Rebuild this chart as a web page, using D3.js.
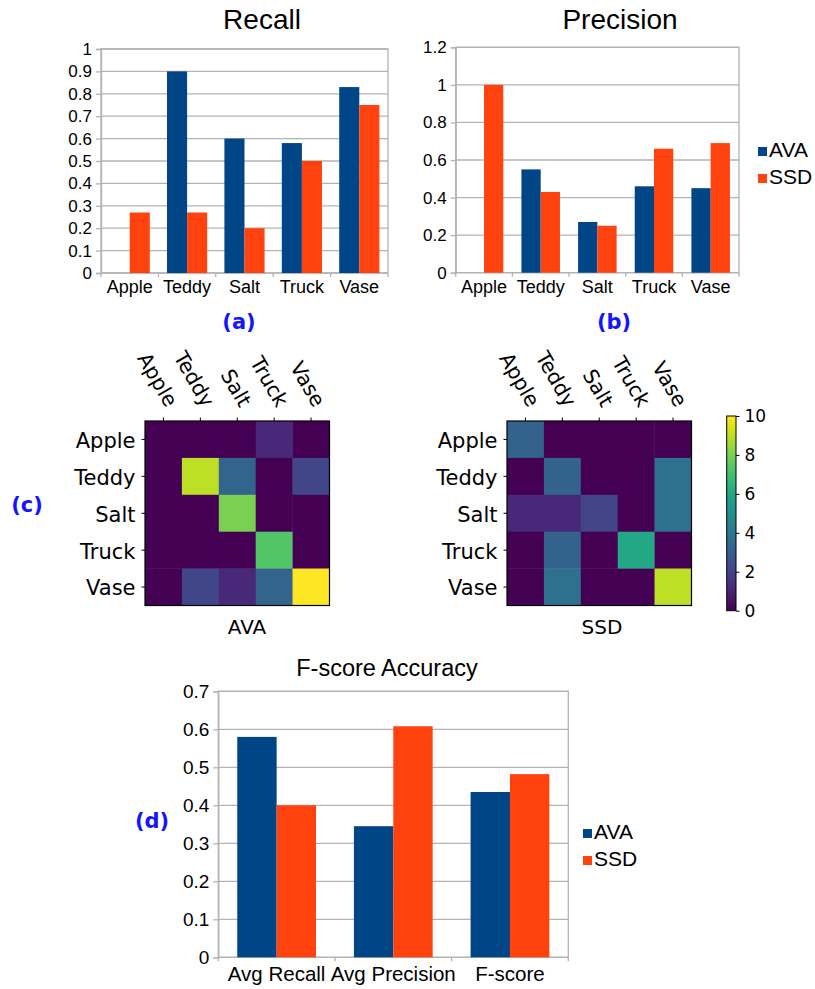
<!DOCTYPE html>
<html>
<head>
<meta charset="utf-8">
<script src="https://cdn.jsdelivr.net/npm/d3@7"></script>
<style>
  html, body { margin: 0; padding: 0; background: #fff; }
  svg { display: block; }
</style>
</head>
<body>
<div id="chart"></div>
<script>
// ---- data ----
const categories = ["Apple", "Teddy", "Salt", "Truck", "Vase"];
const seriesNames = ["AVA", "SSD"];

const recallAVA = [0, 0.9, 0.6, 0.58, 0.83];
const recallSSD = [0.27, 0.27, 0.2, 0.5, 0.75];
const recallTicks = [0, 0.1, 0.2, 0.3, 0.4, 0.5, 0.6, 0.7, 0.8, 0.9, 1];

const precisionAVA = [0, 0.55, 0.27, 0.46, 0.45];
const precisionSSD = [1.0, 0.43, 0.25, 0.66, 0.69];
const precisionTicks = [0, 0.2, 0.4, 0.6, 0.8, 1, 1.2];

const summaryCategories = ["Avg Recall", "Avg Precision", "F-score"];
const summaryAVA = [0.58, 0.345, 0.435];
const summarySSD = [0.4, 0.608, 0.482];
const summaryTicks = [0, 0.1, 0.2, 0.3, 0.4, 0.5, 0.6, 0.7];

// confusion matrices, rows = true class, cols = predicted
const confusionAVA = [
  [0, 0, 0, 1.1, 0],
  [0, 9, 3.2, 0, 2.1],
  [0, 0, 8, 0, 0],
  [0, 0, 0, 7.3, 0],
  [0, 2.1, 1.1, 3.2, 10]
];
const confusionSSD = [
  [3.1, 0, 0, 0, 0],
  [0, 3.1, 0, 0, 3.7],
  [1.1, 1.1, 2, 0, 3.7],
  [0, 3.1, 0, 6, 0],
  [0, 3.7, 0, 0, 9]
];
const colorbarTicks = [0, 2, 4, 6, 8, 10];

const colors = { AVA: "#004586", SSD: "#ff420e" };
const gridColor = "#b3b3b3";
const capColor = "#1414ff";

const W = 815, H = 989;
const svg = d3.select("#chart").append("svg")
  .attr("width", W).attr("height", H)
  .style("background", "#fff");

function barChart(cfg) {
  const g = svg.append("g").style("font-family", "'Liberation Sans', Arial, sans-serif");
  const x0 = d3.scaleBand().domain(cfg.cats).range([cfg.left, cfg.right]);
  const gap = x0.bandwidth() * (1 - cfg.fill) / 2;
  const x1 = d3.scaleBand().domain(seriesNames).range([gap, x0.bandwidth() - gap]);
  const y = d3.scaleLinear().domain([0, d3.max(cfg.ticks)]).range([cfg.bottom, cfg.top]);

  // gridlines
  g.selectAll(".grid").data(cfg.ticks).enter().append("line")
    .attr("x1", cfg.left).attr("x2", cfg.right)
    .attr("y1", d => y(d)).attr("y2", d => y(d))
    .attr("stroke", gridColor).attr("stroke-width", 1.3);
  g.append("rect")
    .attr("x", cfg.left).attr("y", cfg.top)
    .attr("width", cfg.right - cfg.left).attr("height", cfg.bottom - cfg.top)
    .attr("fill", "none").attr("stroke", gridColor).attr("stroke-width", 1.3);

  // y axis
  const yAxis = g.append("g").attr("transform", `translate(${cfg.left},0)`)
    .call(d3.axisLeft(y).tickValues(cfg.ticks).tickFormat(d => String(d)).tickSize(5).tickPadding(4));
  yAxis.select(".domain").attr("stroke", gridColor).attr("stroke-width", 1.3);
  yAxis.selectAll(".tick line").attr("stroke", gridColor).attr("stroke-width", 1.3);
  yAxis.selectAll("text").attr("fill", "#000").style("font-size", cfg.tickFont + "px")
    .style("font-family", "'Liberation Sans', Arial, sans-serif");

  // x axis ticks at band boundaries
  const bounds = cfg.cats.map(c => x0(c)).concat([cfg.right]);
  g.selectAll(".xt").data(bounds).enter().append("line")
    .attr("x1", d => d).attr("x2", d => d)
    .attr("y1", cfg.bottom).attr("y2", cfg.bottom + 4)
    .attr("stroke", gridColor).attr("stroke-width", 1.3);
  g.selectAll(".xl").data(cfg.cats).enter().append("text")
    .attr("x", d => x0(d) + x0.bandwidth() / 2)
    .attr("y", cfg.catBaseline)
    .attr("text-anchor", "middle")
    .style("font-size", cfg.catFont + "px")
    .text(d => d);

  // bars
  const rows = cfg.cats.map((c, i) => ({ cat: c, AVA: cfg.ava[i], SSD: cfg.ssd[i] }));
  const grp = g.selectAll(".grp").data(rows).enter().append("g")
    .attr("transform", d => `translate(${x0(d.cat)},0)`);
  grp.selectAll("rect").data(d => seriesNames.map(s => ({ s, v: d[s] }))).enter().append("rect")
    .attr("x", d => x1(d.s))
    .attr("width", x1.bandwidth())
    .attr("y", d => y(d.v))
    .attr("height", d => y(0) - y(d.v))
    .attr("fill", d => colors[d.s]);

  // title
  g.append("text").attr("x", cfg.titleX).attr("y", cfg.titleY)
    .attr("text-anchor", "middle").style("font-size", cfg.titleFont + "px")
    .text(cfg.title);

  // legend
  if (cfg.legend) {
    seriesNames.forEach((s, i) => {
      g.append("rect").attr("x", cfg.legend.x).attr("y", cfg.legend.y + i * cfg.legend.step)
        .attr("width", 9).attr("height", 9).attr("fill", colors[s]);
      g.append("text").attr("x", cfg.legend.x + 11).attr("y", cfg.legend.y + 9.5 + i * cfg.legend.step)
        .style("font-size", cfg.legend.font + "px").text(s);
    });
  }
}

function caption(txt, x, y) {
  svg.append("text").attr("x", x).attr("y", y).attr("text-anchor", "middle")
    .style("font-family", "'DejaVu Sans', sans-serif").style("font-weight", "bold")
    .style("font-size", "21px").attr("fill", capColor).text(txt);
}

barChart({
  cats: categories, ava: recallAVA, ssd: recallSSD, ticks: recallTicks,
  left: 101, right: 388, top: 49, bottom: 273, fill: 0.7,
  tickFont: 17, catFont: 18, catBaseline: 293,
  title: "Recall", titleX: 262, titleY: 29, titleFont: 28
});
barChart({
  cats: categories, ava: precisionAVA, ssd: precisionSSD, ticks: precisionTicks,
  left: 455.7, right: 739, top: 47.3, bottom: 272.7, fill: 0.68,
  tickFont: 17, catFont: 18, catBaseline: 293,
  title: "Precision", titleX: 620, titleY: 29, titleFont: 28,
  legend: { x: 758, y: 147, step: 27, font: 21 }
});
barChart({
  cats: summaryCategories, ava: summaryAVA, ssd: summarySSD, ticks: summaryTicks,
  left: 218.3, right: 568.3, top: 691.3, bottom: 957.3, fill: 0.675,
  tickFont: 19, catFont: 20.5, catBaseline: 981,
  title: "F-score Accuracy", titleX: 387, titleY: 676, titleFont: 23.5,
  legend: { x: 583, y: 829, step: 27, font: 21 }
});

caption("(a)", 239, 329);
caption("(b)", 614, 329);
caption("(c)", 27, 512);
caption("(d)", 152, 828);

// ---- heatmaps ----
const color = d3.scaleSequential(d3.interpolateViridis).domain([0, 10]);

function heatmap(mat, left, top, size, label, labelX) {
  const g = svg.append("g").style("font-family", "'DejaVu Sans', sans-serif");
  const xs = d3.scaleBand().domain(categories).range([left, left + size]);
  const ys = d3.scaleBand().domain(categories).range([top, top + size]);
  const cells = [];
  mat.forEach((row, i) => row.forEach((v, j) => cells.push({ r: categories[i], c: categories[j], v })));
  g.selectAll("rect.cell").data(cells).enter().append("rect")
    .attr("x", d => xs(d.c)).attr("y", d => ys(d.r))
    .attr("width", xs.bandwidth() + 0.3).attr("height", ys.bandwidth() + 0.3)
    .attr("fill", d => color(d.v));
  g.append("rect").attr("x", left).attr("y", top).attr("width", size).attr("height", size)
    .attr("fill", "none").attr("stroke", "#000").attr("stroke-width", 1.2);

  // left ticks + labels
  const la = g.append("g").attr("transform", `translate(${left},0)`)
    .call(d3.axisLeft(ys).tickSize(3.5).tickPadding(6));
  la.select(".domain").remove();
  la.selectAll("text").style("font-size", "21px").style("font-family", "'DejaVu Sans', sans-serif")
    .attr("dy", "0.4em").attr("fill", "#000");

  // top ticks + rotated labels
  const ta = g.append("g").attr("transform", `translate(0,${top})`)
    .call(d3.axisTop(xs).tickSize(3.5));
  ta.select(".domain").remove();
  ta.selectAll("text").remove();
  g.selectAll(".ct").data(categories).enter().append("text")
    .attr("transform", d => `translate(${xs(d) + xs.bandwidth() / 2 + 2.5},${top - 12.5}) rotate(60)`)
    .attr("text-anchor", "end")
    .style("font-size", "20.5px")
    .text(d => d);

  g.append("text").attr("x", labelX).attr("y", top + size + 28)
    .attr("text-anchor", "middle").style("font-size", "20px").text(label);
}

heatmap(confusionAVA, 145, 421, 184.5, "AVA", 247);
heatmap(confusionSSD, 507, 421, 184.5, "SSD", 602);

// colorbar
const cbX = 726.7, cbW = 9.3, cbTop = 416, cbBottom = 610.7;
const defs = svg.append("defs");
const grad = defs.append("linearGradient").attr("id", "viridis")
  .attr("x1", "0").attr("y1", "1").attr("x2", "0").attr("y2", "0");
d3.range(0, 1.001, 0.05).forEach(t => {
  grad.append("stop").attr("offset", t).attr("stop-color", d3.interpolateViridis(t));
});
svg.append("rect").attr("x", cbX).attr("y", cbTop).attr("width", cbW).attr("height", cbBottom - cbTop)
  .attr("fill", "url(#viridis)").attr("stroke", "#000").attr("stroke-width", 1);
const cbScale = d3.scaleLinear().domain([0, 10]).range([cbBottom, cbTop]);
const cbAxis = svg.append("g").attr("transform", `translate(${cbX + cbW},0)`)
  .call(d3.axisRight(cbScale).tickValues(colorbarTicks).tickSize(3.5).tickPadding(5));
cbAxis.select(".domain").remove();
cbAxis.selectAll("text").style("font-size", "17px").style("font-family", "'DejaVu Sans', sans-serif")
  .attr("fill", "#000");
</script>
</body>
</html>
